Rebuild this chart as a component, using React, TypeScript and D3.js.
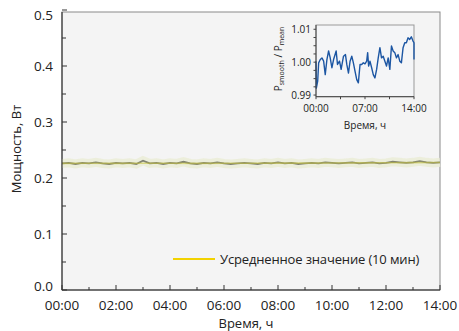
import * as d3 from "d3";

// main chart: power, 15-min samples from 00:00 to 14:00
const powerHours = d3.range(0, 14.01, 0.25);
const powerValues = [
  0.226, 0.227, 0.225, 0.227, 0.226, 0.228, 0.226, 0.225, 0.227, 0.226,
  0.227, 0.225, 0.231, 0.226, 0.227, 0.225, 0.227, 0.226, 0.229, 0.226,
  0.225, 0.227, 0.226, 0.228, 0.226, 0.225, 0.226, 0.227, 0.226, 0.225,
  0.227, 0.226, 0.228, 0.226, 0.227, 0.225, 0.226, 0.227, 0.226, 0.228,
  0.227, 0.226, 0.227, 0.228, 0.226, 0.227, 0.228, 0.226, 0.227, 0.229,
  0.228, 0.227, 0.228, 0.230, 0.228, 0.227, 0.228,
];
// 10-min average, hourly
const meanHours = d3.range(0, 15, 1);
const meanValues = [
  0.2262, 0.2263, 0.2262, 0.2264, 0.2263, 0.2262, 0.2263, 0.2264,
  0.2265, 0.2266, 0.2268, 0.227, 0.2272, 0.2274, 0.2276,
];
const xTickLabels = ["00:00", "02:00", "04:00", "06:00", "08:00", "10:00", "12:00", "14:00"];
const yTicks = [0, 0.1, 0.2, 0.3, 0.4, 0.5];

// inset: P_smooth / P_mean
const ratioHours = [
  0, 0.05, 0.24, 0.38, 0.61, 0.85, 1.09, 1.32, 1.56, 1.8, 2.03, 2.27, 2.51, 2.88,
  3.07, 3.36, 3.59, 3.93, 4.21, 4.4, 4.64, 4.87, 5.11, 5.34, 5.58, 5.82, 6.05,
  6.29, 6.53, 6.76, 7.0, 7.24, 7.38, 7.52, 7.71, 7.95, 8.18, 8.42, 8.66, 8.89,
  9.13, 9.36, 9.6, 9.84, 10.07, 10.31, 10.55, 10.78, 11.02, 11.26, 11.49, 11.73,
  11.97, 12.2, 12.44, 12.68, 12.91, 13.15, 13.39, 13.62, 13.86, 14.0, 14.0,
];
const ratioValues = [
  1.0003, 0.9921, 0.9942, 0.9998, 1.0008, 1.0013, 1.0003, 0.9962, 1.0008, 1.0034,
  1.0013, 0.9983, 1.0008, 1.0034, 0.9993, 1.0003, 0.9978, 1.0018, 1.0023, 0.9993,
  0.9967, 1.0003, 1.0018, 0.9998, 0.9972, 0.9947, 0.9937, 0.9993, 0.9993, 0.9998,
  0.9995, 1.0003, 1.0029, 0.9988, 1.0003, 0.9983, 0.9962, 0.9952, 0.9978, 1.0013,
  1.0044, 1.0013, 1.0018, 1.0003, 0.9988, 1.0013, 0.9978, 1.0049, 1.0034, 1.0029,
  1.0013, 1.0023, 1.0003, 0.9998, 1.0044, 1.0059, 1.0059, 1.0074, 1.0069, 1.0077,
  1.0064, 1.0059, 1.0008,
];
const insetYTicks = [0.99, 1.0, 1.01];
const insetXTickLabels = ["00:00", "07:00", "14:00"];

const FONT = "'Open Sans', sans-serif";

const App = () => {
  const W = 459, H = 331;
  const m = { left: 62, right: 440, top: 12, bottom: 290 };
  const x = d3.scaleLinear().domain([0, 14]).range([m.left, m.right]);
  const y = d3.scaleLinear().domain([0, 0.5]).range([m.bottom, 10]);

  const ins = { left: 316, right: 414, top: 25, bottom: 96.7 };
  const ix = d3.scaleLinear().domain([0, 14]).range([ins.left, ins.right]);
  const iy = d3.scaleLinear().domain([0.9895, 1.0113]).range([ins.bottom, ins.top]);

  const powerLine = d3.line<number>()
    .x((_, i) => x(powerHours[i]))
    .y((d) => y(d));
  const meanLine = d3.line<number>()
    .x((_, i) => x(meanHours[i]))
    .y((d) => y(d));
  const ratioLine = d3.line<number>()
    .x((_, i) => ix(ratioHours[i]))
    .y((d) => iy(d));

  const minorX = d3.range(0, 14.01, 1);
  const minorY = d3.range(0, 0.501, 0.05);
  const insMinorX = d3.range(0, 14.01, 3.5);
  const insMinorY = d3.range(0.99, 1.0101, 0.0025);

  return (
    <svg width={W} height={H} style={{ position: "absolute", left: 0, top: 0, background: "#fff" }}>
      {/* main plot area */}
      <rect x={m.left} y={m.top} width={m.right - m.left} height={m.bottom - m.top}
        fill="#f4f4f4" stroke="#8a8a8a" strokeWidth={1} />

      {/* power trace */}
      <path d={powerLine(powerValues) || ""} fill="none" stroke="#ebedd8" strokeWidth={9} strokeOpacity={0.9} />
      <path d={powerLine(powerValues) || ""} fill="none" stroke="#5e5f52" strokeWidth={1.8} strokeOpacity={0.75} />
      <path d={meanLine(meanValues) || ""} fill="none" stroke="#c9c43a" strokeWidth={1.6} strokeOpacity={0.55} />

      {/* axes */}
      <line x1={m.left} x2={m.left} y1={m.top} y2={m.bottom} stroke="#222" />
      <line x1={m.left} x2={m.right} y1={m.bottom} y2={m.bottom} stroke="#222" />
      {minorX.map((h) => (
        <line key={"mx" + h} x1={x(h)} x2={x(h)} y1={m.bottom} y2={m.bottom - (h % 2 === 0 ? 5 : 3)} stroke="#333" />
      ))}
      {minorY.map((v, i) => (
        <line key={"my" + i} x1={m.left} x2={m.left + (i % 2 === 0 ? 5 : 4)} y1={y(v)} y2={y(v)} stroke="#333" />
      ))}
      {xTickLabels.map((t, i) => (
        <text key={t} x={x(i * 2)} y={310} textAnchor="middle" fontSize={13.5} fontFamily={FONT} fill="#222">{t}</text>
      ))}
      {yTicks.map((v) => (
        <text key={v} x={53} y={y(v) + 4.5 - (v === 0 ? 4 : 0) + (v === 0.5 ? 5 : 0)} textAnchor="end" fontSize={13.5} fontFamily={FONT} fill="#222">{v.toFixed(1)}</text>
      ))}
      <text x={246} y={328} textAnchor="middle" fontSize={13} fontFamily={FONT} fill="#222">Время, ч</text>
      <text transform="translate(21,149) rotate(-90)" textAnchor="middle" fontSize={13} fontFamily={FONT} fill="#222">Мощность, Вт</text>

      {/* legend */}
      <line x1={173} x2={215} y1={259} y2={259} stroke="#f2d200" strokeWidth={2} />
      <text x={220} y={263.5} fontSize={13} fontFamily={FONT} fill="#222" letterSpacing={-0.15}>Усредненное значение (10 мин)</text>

      {/* inset */}
      <rect x={ins.left} y={ins.top} width={ins.right - ins.left} height={ins.bottom - ins.top}
        fill="#f4f5f7" stroke="#999" />
      <path d={ratioLine(ratioValues) || ""} fill="none" stroke="#1c56a3" strokeWidth={1.4} strokeLinejoin="round" />
      <line x1={ins.left} x2={ins.left} y1={ins.top} y2={ins.bottom} stroke="#444" />
      <line x1={ins.left} x2={ins.right} y1={ins.bottom} y2={ins.bottom} stroke="#444" />
      {insMinorX.map((h) => (
        <line key={"ix" + h} x1={ix(h)} x2={ix(h)} y1={ins.bottom} y2={ins.bottom + 2.5} stroke="#444" />
      ))}
      {insMinorY.map((v, i) => (
        <line key={"iy" + i} x1={ins.left} x2={ins.left - 2.5} y1={iy(v)} y2={iy(v)} stroke="#444" />
      ))}
      {insetYTicks.map((v) => (
        <text key={v} x={311} y={iy(v) + 3.5} textAnchor="end" fontSize={10} fontFamily={FONT} fill="#222">{v.toFixed(2)}</text>
      ))}
      {insetXTickLabels.map((t, i) => (
        <text key={t} x={ix(i * 7)} y={112} textAnchor="middle" fontSize={10} fontFamily={FONT} fill="#222">{t}</text>
      ))}
      <text x={365} y={129} textAnchor="middle" fontSize={10} fontFamily={FONT} fill="#222">Время, ч</text>
      <text transform="translate(282,59) rotate(-90)" textAnchor="middle" fontSize={10} fontFamily={FONT} fill="#222">
        P<tspan fontSize={7} dy={2}>smooth</tspan><tspan dy={-2}> / P</tspan><tspan fontSize={7} dy={2}>mean</tspan>
      </text>
    </svg>
  );
};

export default App;
